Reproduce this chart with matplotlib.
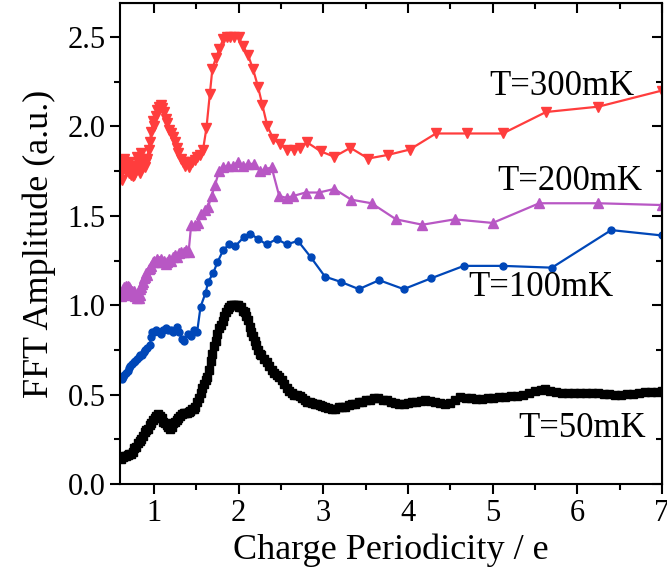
import matplotlib
matplotlib.use("Agg")
import matplotlib.pyplot as plt
from matplotlib.ticker import MultipleLocator, FormatStrFormatter

plt.rcParams['font.family'] = ['Liberation Serif', 'DejaVu Serif']

# T = 300 mK
x300 = [0.61, 0.62, 0.63, 0.64, 0.65, 0.66, 0.67, 0.68, 0.69, 0.70, 0.71, 0.72, 0.73, 0.74,
        0.75, 0.76, 0.77, 0.78, 0.79, 0.80, 0.81, 0.82, 0.83, 0.84, 0.85, 0.86, 0.87, 0.88,
        0.90, 0.91, 0.92, 0.94, 0.95, 0.97, 0.99, 1.00, 1.02, 1.04, 1.06, 1.08, 1.10, 1.12,
        1.14, 1.16, 1.18, 1.20, 1.22, 1.25, 1.27, 1.29, 1.32, 1.34, 1.37, 1.39, 1.42, 1.45,
        1.48, 1.51, 1.54, 1.58, 1.62, 1.66, 1.69, 1.73, 1.77, 1.82, 1.86, 1.90, 1.95, 2.00,
        2.05, 2.11, 2.17, 2.23, 2.28, 2.34, 2.41, 2.49, 2.57, 2.65, 2.73, 2.81, 2.97, 3.13,
        3.32, 3.53, 3.76, 4.02, 4.33, 4.70, 5.12, 5.63, 6.25, 7.00]
y300 = [1.74, 1.70, 1.80, 1.76, 1.82, 1.78, 1.75, 1.79, 1.76, 1.80, 1.74, 1.76, 1.73, 1.75,
        1.72, 1.74, 1.73, 1.75, 1.78, 1.83, 1.80, 1.78, 1.74, 1.79, 1.85, 1.82, 1.78, 1.81,
        1.77, 1.80, 1.82, 1.87, 1.91, 1.97, 2.03, 2.00, 2.06, 2.09, 2.11, 2.12, 2.10, 2.08,
        2.04, 2.02, 1.98, 1.96, 1.94, 1.91, 1.88, 1.85, 1.82, 1.80, 1.78, 1.80, 1.77, 1.80,
        1.81, 1.83, 1.84, 1.87, 1.99, 2.18, 2.32, 2.38, 2.43, 2.49, 2.50, 2.50, 2.50, 2.50,
        2.45, 2.40, 2.32, 2.22, 2.12, 2.00, 1.93, 1.90, 1.87, 1.87, 1.88, 1.91, 1.86, 1.83,
        1.88, 1.82, 1.84, 1.87, 1.96, 1.96, 1.96, 2.08, 2.11, 2.20]

# T = 200 mK
x200 = [0.61, 0.62, 0.63, 0.64, 0.65, 0.66, 0.67, 0.68, 0.69, 0.70, 0.71, 0.72, 0.73, 0.74,
        0.75, 0.76, 0.77, 0.78, 0.79, 0.80, 0.81, 0.82, 0.83, 0.84, 0.85, 0.86, 0.87, 0.88,
        0.90, 0.91, 0.92, 0.94, 0.95, 0.97, 0.99, 1.00, 1.02, 1.04, 1.06, 1.08, 1.10, 1.12,
        1.14, 1.16, 1.18, 1.20, 1.22, 1.25, 1.27, 1.30, 1.32, 1.35, 1.38, 1.41, 1.44, 1.48,
        1.52, 1.56, 1.60, 1.64, 1.68, 1.72, 1.77, 1.82, 1.87, 1.93, 1.99, 2.05, 2.11, 2.18,
        2.25, 2.31, 2.39, 2.48, 2.57, 2.64, 2.79, 2.95, 3.13, 3.33, 3.57, 3.86, 4.17, 4.55,
        5.00, 5.55, 6.25, 7.00]
y200 = [1.05, 1.07, 1.09, 1.06, 1.10, 1.08, 1.11, 1.09, 1.11, 1.10, 1.08, 1.09, 1.07, 1.08,
        1.06, 1.08, 1.06, 1.05, 1.06, 1.04, 1.05, 1.04, 1.06, 1.09, 1.10, 1.12, 1.13, 1.15,
        1.16, 1.18, 1.17, 1.20, 1.21, 1.22, 1.24, 1.25, 1.24, 1.26, 1.25, 1.26, 1.24, 1.25,
        1.23, 1.24, 1.26, 1.25, 1.27, 1.28, 1.27, 1.29, 1.30, 1.30, 1.31, 1.30, 1.45, 1.45,
        1.46, 1.51, 1.53, 1.55, 1.61, 1.67, 1.75, 1.77, 1.78, 1.78, 1.80, 1.78, 1.79, 1.79,
        1.75, 1.76, 1.77, 1.61, 1.60, 1.61, 1.63, 1.63, 1.65, 1.59, 1.57, 1.48, 1.45, 1.48,
        1.46, 1.57, 1.57, 1.56]

# T = 100 mK
x100 = [0.62, 0.64, 0.65, 0.67, 0.69, 0.70, 0.72, 0.74, 0.76, 0.78, 0.80, 0.82, 0.84, 0.86,
        0.88, 0.90, 0.92, 0.95, 0.97, 0.98, 1.00, 1.03, 1.06, 1.08, 1.11, 1.14, 1.17, 1.20,
        1.23, 1.27, 1.30, 1.33, 1.36, 1.40, 1.44, 1.47, 1.51, 1.55, 1.61, 1.64, 1.70, 1.75,
        1.82, 1.89, 1.96, 2.06, 2.14, 2.23, 2.33, 2.45, 2.57, 2.70, 2.85, 3.02, 3.21, 3.42,
        3.66, 3.95, 4.27, 4.66, 5.12, 5.70, 6.40, 7.00]
y100 = [0.59, 0.60, 0.61, 0.62, 0.63, 0.65, 0.66, 0.67, 0.68, 0.69, 0.70, 0.71, 0.72, 0.72,
        0.74, 0.75, 0.76, 0.78, 0.82, 0.85, 0.85, 0.86, 0.85, 0.84, 0.86, 0.87, 0.86, 0.86,
        0.85, 0.88, 0.85, 0.81, 0.80, 0.84, 0.83, 0.86, 0.85, 0.99, 1.07, 1.13, 1.18, 1.24,
        1.31, 1.34, 1.33, 1.38, 1.40, 1.37, 1.34, 1.37, 1.34, 1.36, 1.27, 1.16, 1.13, 1.09,
        1.14, 1.09, 1.15, 1.22, 1.22, 1.21, 1.42, 1.39]

# T = 50 mK
x50 = [0.61, 0.63, 0.65, 0.67, 0.69, 0.71, 0.73, 0.75, 0.77, 0.79, 0.81, 0.83, 0.85, 0.87,
       0.89, 0.91, 0.93, 0.95, 0.97, 0.99, 1.01, 1.03, 1.05, 1.07, 1.09, 1.11, 1.13, 1.15,
       1.17, 1.19, 1.21, 1.23, 1.25, 1.27, 1.29, 1.31, 1.33, 1.35, 1.37, 1.39, 1.41, 1.43,
       1.45, 1.47, 1.49, 1.51, 1.53, 1.55, 1.57, 1.59, 1.61, 1.63, 1.65, 1.67, 1.69, 1.71,
       1.73, 1.75, 1.77, 1.79, 1.81, 1.83, 1.85, 1.87, 1.89, 1.91, 1.93, 1.95, 1.97, 1.99,
       2.01, 2.03, 2.05, 2.07, 2.09, 2.11, 2.13, 2.15, 2.17, 2.19, 2.21, 2.23, 2.25, 2.27,
       2.30, 2.33, 2.36, 2.39, 2.42, 2.45, 2.48, 2.51, 2.54, 2.57, 2.60, 2.63, 2.66, 2.69,
       2.72, 2.75, 2.78, 2.81, 2.84, 2.87, 2.90, 2.93, 2.96, 2.99, 3.02, 3.06, 3.10, 3.14,
       3.18, 3.22, 3.26, 3.30, 3.34, 3.38, 3.42, 3.46, 3.50, 3.55, 3.60, 3.65, 3.70, 3.75,
       3.80, 3.85, 3.90, 3.95, 4.00, 4.05, 4.10, 4.15, 4.20, 4.26, 4.32, 4.38, 4.44, 4.50,
       4.56, 4.62, 4.68, 4.74, 4.80, 4.87, 4.94, 5.01, 5.08, 5.15, 5.22, 5.29, 5.36, 5.43,
       5.50, 5.57, 5.62, 5.68, 5.75, 5.82, 5.89, 5.96, 6.03, 6.10, 6.17, 6.24, 6.31, 6.38,
       6.45, 6.52, 6.59, 6.66, 6.73, 6.80, 6.87, 6.94, 7.00]
y50 = [0.14, 0.15, 0.155, 0.16, 0.165, 0.17, 0.17, 0.18, 0.20, 0.21, 0.23, 0.24, 0.255, 0.27,
       0.29, 0.30, 0.31, 0.33, 0.34, 0.36, 0.37, 0.38, 0.39, 0.38, 0.37, 0.35, 0.34, 0.33,
       0.32, 0.31, 0.32, 0.34, 0.35, 0.36, 0.37, 0.38, 0.39, 0.395, 0.40, 0.40, 0.405, 0.41,
       0.42, 0.42, 0.43, 0.46, 0.48, 0.51, 0.54, 0.56, 0.58, 0.60, 0.64, 0.69, 0.73, 0.77,
       0.80, 0.84, 0.87, 0.89, 0.91, 0.94, 0.96, 0.98, 0.99, 1.00, 1.00, 1.00, 1.00, 1.00,
       0.99, 0.99, 0.97, 0.96, 0.94, 0.92, 0.88, 0.85, 0.83, 0.80, 0.78, 0.75, 0.73, 0.72,
       0.70, 0.68, 0.66, 0.64, 0.62, 0.61, 0.60, 0.58, 0.56, 0.54, 0.52, 0.51, 0.50, 0.50,
       0.49, 0.48, 0.47, 0.46, 0.46, 0.455, 0.45, 0.45, 0.44, 0.435, 0.43, 0.425, 0.42, 0.42,
       0.43, 0.43, 0.43, 0.44, 0.45, 0.45, 0.46, 0.46, 0.47, 0.47, 0.48, 0.48, 0.47, 0.47,
       0.46, 0.455, 0.45, 0.45, 0.455, 0.46, 0.46, 0.465, 0.47, 0.465, 0.46, 0.455, 0.45, 0.455,
       0.47, 0.485, 0.48, 0.48, 0.475, 0.475, 0.48, 0.48, 0.485, 0.485, 0.49, 0.495, 0.50, 0.51,
       0.52, 0.525, 0.53, 0.52, 0.515, 0.51, 0.51, 0.51, 0.51, 0.51, 0.51, 0.51, 0.505, 0.505,
       0.50, 0.50, 0.505, 0.505, 0.51, 0.515, 0.515, 0.515, 0.52]

labels = ["T=300mK", "T=200mK", "T=100mK", "T=50mK"]
label_x = [6.67, 6.77, 6.43, 6.81]
label_y = [2.22, 1.69, 1.10, 0.31]

fig = plt.figure(figsize=(6.67, 5.75), dpi=100)
ax = fig.add_axes([0.18, 0.158, 0.8125, 0.837])

ax.plot(x300, y300, color='#ff3d3d', lw=1.6, marker='v', ms=6.5, mec='#ff3d3d')
ax.plot(x200, y200, color='#b857c4', lw=1.6, marker='^', ms=6.5, mec='#b857c4')
ax.plot(x100, y100, color='#0047b8', lw=1.6, marker='o', ms=5, mec='#0047b8')
ax.plot(x50, y50, color='black', lw=4, marker='s', ms=5.5, mec='black')

for t, tx, ty in zip(labels, label_x, label_y):
    ax.text(tx, ty, t, fontsize=25, ha='right', va='center')

ax.set_xlim(0.6, 7.0)
ax.set_ylim(0, 2.69)
ax.xaxis.set_major_locator(MultipleLocator(1))
ax.xaxis.set_minor_locator(MultipleLocator(0.5))
ax.yaxis.set_major_locator(MultipleLocator(0.5))
ax.yaxis.set_minor_locator(MultipleLocator(0.25))
ax.yaxis.set_major_formatter(FormatStrFormatter('%.1f'))

# bottom and left ticks out
ax.tick_params(which='both', labelsize=22, width=1.5, direction='out')
ax.tick_params(which='major', length=7)
ax.tick_params(which='minor', length=4)
for s in ax.spines.values():
    s.set_linewidth(1.5)

# top and right ticks point inward
secx = ax.secondary_xaxis('top')
secx.xaxis.set_major_locator(MultipleLocator(1))
secx.xaxis.set_minor_locator(MultipleLocator(0.5))
secx.tick_params(which='both', direction='in', labeltop=False, width=1.5)
secx.tick_params(which='major', length=7)
secx.tick_params(which='minor', length=4)
secy = ax.secondary_yaxis('right')
secy.yaxis.set_major_locator(MultipleLocator(0.5))
secy.yaxis.set_minor_locator(MultipleLocator(0.25))
secy.tick_params(which='both', direction='in', labelright=False, width=1.5)
secy.tick_params(which='major', length=7)
secy.tick_params(which='minor', length=4)

ax.set_xlabel("Charge Periodicity / e", fontsize=26, labelpad=4)
ax.set_ylabel("FFT Amplitude (a.u.)", fontsize=26, labelpad=8)

fig.savefig("out.png", dpi=100)
